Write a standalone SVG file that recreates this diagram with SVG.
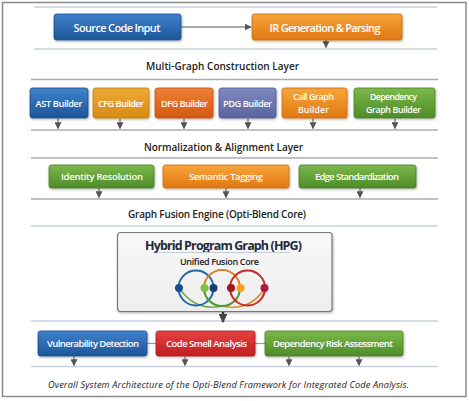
<svg xmlns="http://www.w3.org/2000/svg" width="469" height="401" viewBox="0 0 469 401">
<style>
.lbl{font-family:"Open Sans","Noto Sans","Liberation Sans",sans-serif;font-weight:600;fill:#fff;text-anchor:middle;dominant-baseline:central}
.hdr{font-family:"Open Sans","Noto Sans","Liberation Sans",sans-serif;font-weight:600;fill:#222;text-anchor:middle;dominant-baseline:central;font-size:10px}
.sep{stroke:#c9d1dc;stroke-width:1.3}
.sepd{stroke:#a9adb3;stroke-width:1.3}
.box{stroke-width:0.8}
.arr{stroke:#555;stroke-width:1;fill:none}
</style>
<defs>
<linearGradient id="gBlue" x1="0" y1="0" x2="0" y2="1"><stop offset="0" stop-color="#3f82cc"/><stop offset="1" stop-color="#1d5598"/></linearGradient>
<linearGradient id="gOrange" x1="0" y1="0" x2="0" y2="1"><stop offset="0" stop-color="#f7a53a"/><stop offset="1" stop-color="#e07812"/></linearGradient>
<linearGradient id="gGold" x1="0" y1="0" x2="0" y2="1"><stop offset="0" stop-color="#efaa35"/><stop offset="1" stop-color="#d68a14"/></linearGradient>
<linearGradient id="gDfg" x1="0" y1="0" x2="0" y2="1"><stop offset="0" stop-color="#f07e35"/><stop offset="1" stop-color="#d25a14"/></linearGradient>
<linearGradient id="gPdg" x1="0" y1="0" x2="0" y2="1"><stop offset="0" stop-color="#7f8ac2"/><stop offset="1" stop-color="#5a649e"/></linearGradient>
<linearGradient id="gGreen" x1="0" y1="0" x2="0" y2="1"><stop offset="0" stop-color="#7cb84a"/><stop offset="1" stop-color="#4e8c28"/></linearGradient>
<linearGradient id="gRed" x1="0" y1="0" x2="0" y2="1"><stop offset="0" stop-color="#e54040"/><stop offset="1" stop-color="#c01f22"/></linearGradient>
<linearGradient id="gHpg" x1="0" y1="0" x2="0" y2="1"><stop offset="0" stop-color="#f8f8f8"/><stop offset="1" stop-color="#eeeeee"/></linearGradient>
<filter id="sh" x="-10%" y="-20%" width="120%" height="150%"><feDropShadow dx="0.8" dy="1.2" stdDeviation="0.9" flood-color="#000" flood-opacity="0.3"/></filter>
<marker id="ah" viewBox="0 0 10 10" refX="9" refY="5" markerWidth="7" markerHeight="7" markerUnits="userSpaceOnUse" orient="auto"><path d="M0 0L10 5L0 10z" fill="#555"/></marker>
<marker id="ahB" viewBox="0 0 10 10" refX="9" refY="5" markerWidth="9" markerHeight="9" markerUnits="userSpaceOnUse" orient="auto"><path d="M0 0L10 5L0 10z" fill="#444"/></marker>
</defs>
<rect x="0" y="0" width="469" height="401" fill="#fff"/>
<rect x="2.5" y="2.5" width="463.5" height="394" fill="#fff" stroke="#8a8a8a" stroke-width="1.5"/>

<g id="separators">
<line class="sep" x1="34" y1="7" x2="437" y2="7"/>
<line class="sep" x1="34" y1="49" x2="437" y2="49"/>
<line class="sepd" x1="31" y1="79.5" x2="438" y2="79.5"/>
<line class="sepd" x1="31" y1="130" x2="438" y2="130"/>
<line class="sepd" x1="31" y1="158" x2="438" y2="158"/>
<line class="sepd" x1="31" y1="199" x2="438" y2="199"/>
<line class="sep" x1="31" y1="226" x2="438" y2="226"/>
<line class="sep" x1="31" y1="321" x2="438" y2="321"/>
<line class="sep" x1="31" y1="366.5" x2="438" y2="366.5"/>
</g>

<g id="headers">
<text class="hdr" x="222.5" y="65.5" textLength="153">Multi-Graph Construction Layer</text>
<text class="hdr" x="223.5" y="146.5" textLength="159">Normalization &amp; Alignment Layer</text>
<text class="hdr" x="217" y="214" textLength="178">Graph Fusion Engine (Opti-Blend Core)</text>
</g>

<g id="connectors">
<line class="arr" x1="181" y1="27" x2="251" y2="27" marker-end="url(#ah)"/>
<line class="arr" x1="326" y1="40" x2="326" y2="47.5" marker-end="url(#ah)"/>
<line class="arr" x1="58" y1="118.5" x2="58" y2="128.5" marker-end="url(#ah)"/>
<line class="arr" x1="120" y1="118.5" x2="120" y2="128.5" marker-end="url(#ah)"/>
<line class="arr" x1="184" y1="118.5" x2="184" y2="128.5" marker-end="url(#ah)"/>
<line class="arr" x1="248" y1="118.5" x2="248" y2="128.5" marker-end="url(#ah)"/>
<line class="arr" x1="313" y1="118.5" x2="313" y2="128.5" marker-end="url(#ah)"/>
<line class="arr" x1="395" y1="118.5" x2="395" y2="128.5" marker-end="url(#ah)"/>
<line class="arr" x1="99" y1="188" x2="99" y2="197.5" marker-end="url(#ah)"/>
<line class="arr" x1="226" y1="188" x2="226" y2="197.5" marker-end="url(#ah)"/>
<line class="arr" x1="360" y1="188" x2="360" y2="197.5" marker-end="url(#ah)"/>
<line x1="223" y1="312" x2="223" y2="322" stroke="#444" stroke-width="2.5" marker-end="url(#ahB)"/>
<line x1="147" y1="343.5" x2="156" y2="343.5" stroke="#999" stroke-width="1.2"/>
<line x1="255" y1="343.5" x2="265" y2="343.5" stroke="#999" stroke-width="1.2"/>
<line class="arr" x1="74" y1="356.5" x2="74" y2="365.5" marker-end="url(#ah)"/>
<line class="arr" x1="185" y1="356.5" x2="185" y2="365.5" marker-end="url(#ah)"/>
<line class="arr" x1="289" y1="356.5" x2="289" y2="365.5" marker-end="url(#ah)"/>
<line class="arr" x1="359" y1="356.5" x2="359" y2="365.5" marker-end="url(#ah)"/>
</g>

<g id="source-code-input">
<rect class="box" x="54" y="14" width="127" height="26" rx="2.5" fill="url(#gBlue)" stroke="#1a4c86" filter="url(#sh)"/>
<text class="lbl" x="117" y="27" font-size="11" textLength="87">Source Code Input</text>
</g>
<g id="ir-generation">
<rect class="box" x="252" y="14" width="150" height="26" rx="2.5" fill="url(#gOrange)" stroke="#c86a10" filter="url(#sh)"/>
<text class="lbl" x="325" y="27" font-size="11" textLength="111">IR Generation &amp; Parsing</text>
</g>

<g id="ast-builder">
<rect class="box" x="30" y="88" width="58" height="30" rx="2.5" fill="url(#gBlue)" stroke="#1a4c86" filter="url(#sh)"/>
<text class="lbl" x="59" y="103.3" font-size="9.2" textLength="47">AST Builder</text>
</g>
<g id="cfg-builder">
<rect class="box" x="93" y="88" width="56" height="30" rx="2.5" fill="url(#gGold)" stroke="#c07c10" filter="url(#sh)"/>
<text class="lbl" x="121" y="103.3" font-size="9.2" textLength="46">CFG Builder</text>
</g>
<g id="dfg-builder">
<rect class="box" x="155" y="88" width="58" height="30" rx="2.5" fill="url(#gDfg)" stroke="#bb5010" filter="url(#sh)"/>
<text class="lbl" x="184.5" y="103.3" font-size="9.2" textLength="47">DFG Builder</text>
</g>
<g id="pdg-builder">
<rect class="box" x="219" y="88" width="57" height="30" rx="2.5" fill="url(#gPdg)" stroke="#4e578c" filter="url(#sh)"/>
<text class="lbl" x="247.5" y="103.3" font-size="9.2" textLength="49">PDG Builder</text>
</g>
<g id="call-graph-builder">
<rect class="box" x="282" y="88" width="65" height="30" rx="2.5" fill="url(#gOrange)" stroke="#c86a10" filter="url(#sh)"/>
<text class="lbl" x="313.5" y="97.2" font-size="8.8" textLength="41">Call Graph</text>
<text class="lbl" x="313.5" y="109.6" font-size="8.8" textLength="31">Builder</text>
</g>
<g id="dependency-graph-builder">
<rect class="box" x="354" y="88" width="81" height="30" rx="2.5" fill="url(#gGreen)" stroke="#457d22" filter="url(#sh)"/>
<text class="lbl" x="393.5" y="97.2" font-size="8.8" textLength="47">Dependency</text>
<text class="lbl" x="393.5" y="109.6" font-size="8.8" textLength="55">Graph Builder</text>
</g>

<g id="identity-resolution">
<rect class="box" x="49" y="165" width="105" height="23" rx="2.5" fill="url(#gGreen)" stroke="#457d22" filter="url(#sh)"/>
<text class="lbl" x="102" y="176.5" font-size="9.5" textLength="82">Identity Resolution</text>
</g>
<g id="semantic-tagging">
<rect class="box" x="163" y="165" width="126" height="23" rx="2.5" fill="url(#gOrange)" stroke="#c86a10" filter="url(#sh)"/>
<text class="lbl" x="226" y="176.5" font-size="9.5" textLength="74">Semantic Tagging</text>
</g>
<g id="edge-standardization">
<rect class="box" x="299" y="165" width="117" height="23" rx="2.5" fill="url(#gGreen)" stroke="#457d22" filter="url(#sh)"/>
<text class="lbl" x="357" y="176.5" font-size="9.5" textLength="84">Edge Standardization</text>
</g>

<g id="hybrid-program-graph">
<rect x="117.5" y="232.5" width="214.5" height="79" rx="3" fill="url(#gHpg)" stroke="#777" stroke-width="1.2" filter="url(#sh)"/>
<text x="223.5" y="245" font-family="'Open Sans','Noto Sans','Liberation Sans',sans-serif" font-weight="700" font-size="12.5" fill="#1f2a3a" text-anchor="middle" dominant-baseline="central" textLength="157">Hybrid Program Graph (HPG)</text>
<line x1="157" y1="252.5" x2="290" y2="252.5" stroke="#c5ccd6" stroke-width="1"/>
<text x="219.5" y="261" font-family="'Open Sans','Noto Sans','Liberation Sans',sans-serif" font-weight="600" font-size="9" fill="#222" text-anchor="middle" dominant-baseline="central" textLength="79">Unified Fusion Core</text>
<g id="fusion-logo" fill="none" stroke-width="2">
<path d="M179 288 Q196 312 222 306" stroke="#7aa84a" stroke-width="1.6"/>
<path d="M265 288 Q250 312 222 306" stroke="#d98c3a" stroke-width="1.6"/>
<circle cx="196" cy="288" r="17.5" stroke="#1f6aa5"/>
<path d="M204 288 A18 18 0 0 1 240 288" stroke="#d4842a"/>
<path d="M204 288 A18 18 0 0 0 240 288" stroke="#4d9a2a"/>
<circle cx="247.5" cy="288" r="17.5" stroke="#c62828"/>
<circle cx="179" cy="288" r="4" fill="#174f8c" stroke="none"/>
<circle cx="204.5" cy="288" r="4" fill="#7cc142" stroke="none"/>
<circle cx="213.5" cy="288" r="4" fill="#173e7a" stroke="none"/>
<circle cx="231" cy="288" r="4" fill="#a01820" stroke="none"/>
<circle cx="240.5" cy="288" r="4" fill="#f5a020" stroke="none"/>
<circle cx="264.5" cy="288" r="4" fill="#b01a3c" stroke="none"/>
</g>
</g>

<g id="vulnerability-detection">
<rect class="box" x="38" y="331" width="109" height="25" rx="2.5" fill="url(#gBlue)" stroke="#1a4c86" filter="url(#sh)"/>
<text class="lbl" x="93" y="343.5" font-size="9.5" textLength="92">Vulnerability Detection</text>
</g>
<g id="code-smell-analysis">
<rect class="box" x="156" y="331" width="99" height="25" rx="2.5" fill="url(#gRed)" stroke="#a81a1e" filter="url(#sh)"/>
<text class="lbl" x="206.5" y="343.5" font-size="9.5" textLength="81">Code Smell Analysis</text>
</g>
<g id="dependency-risk-assessment">
<rect class="box" x="265" y="331" width="138" height="25" rx="2.5" fill="url(#gGreen)" stroke="#457d22" filter="url(#sh)"/>
<text class="lbl" x="333" y="343.5" font-size="9.5" textLength="120">Dependency Risk Assessment</text>
</g>

<text x="228.5" y="384.5" font-family="'Open Sans','Noto Sans','Liberation Sans',sans-serif" font-style="italic" font-size="9.2" fill="#222" text-anchor="middle" dominant-baseline="central" textLength="361">Overall System Architecture of the Opti-Blend Framework for Integrated Code Analysis.</text>
</svg>
